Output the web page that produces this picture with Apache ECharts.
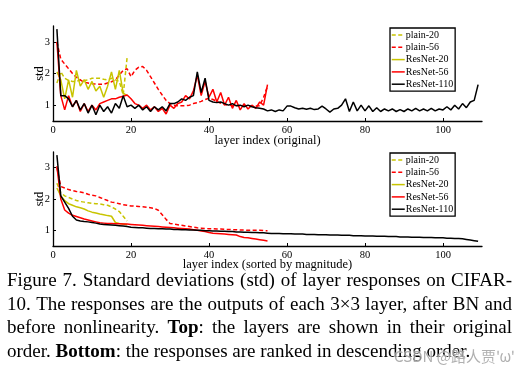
<!DOCTYPE html>
<html><head><meta charset="utf-8">
<script src="https://cdn.jsdelivr.net/npm/echarts@6/dist/echarts.min.js"></script>
<style>html,body{margin:0;padding:0;background:#fff}#c{width:523px;height:379px}</style>
</head><body><div id="c"></div>
<script>
// ---------- data ----------
const seriesNames = ['plain-20', 'plain-56', 'ResNet-20', 'ResNet-56', 'ResNet-110'];
const xTicks = [0, 20, 40, 60, 80, 100];
const yTicks = [1, 2, 3];

// Top: layer index (original)
const origPlain20 = [1.7, 2.05, 1.85, 1.78, 1.75, 1.75, 1.8, 1.78, 1.8, 1.85, 1.85, 1.85, 1.82, 1.8, 1.85, 1.8, 1.75, 1.32, 2.5];
const origPlain56 = [3.0, 2.45, 2.3, 2.15, 2.0, 1.88, 1.8, 1.72, 1.7, 1.68,
  1.67, 1.66, 1.66, 1.7, 1.74, 1.8, 1.95, 2.1, 2.15, 1.9,
  2.1, 2.2, 2.22, 2.1, 1.9, 1.7, 1.5, 1.32, 1.15, 1.05,
  1.0, 0.98, 0.98, 0.98, 1.0, 1.05, 1.08, 1.12, 1.18, 1.22,
  1.18, 1.12, 1.06, 1.02, 1.0, 0.99, 0.99, 0.98, 0.98, 0.98,
  0.97, 0.97, 0.98, 1.25, 1.6];
const origRes20 = [2.05, 1.8, 1.2, 1.8, 1.25, 2.1, 1.6, 1.8, 1.5, 1.75, 1.45, 1.6, 1.25, 1.6, 2.05, 1.5, 2.1, 1.38, 1.3];
const origRes56 = [3.0, 1.3, 0.85, 1.3, 0.95, 1.15, 0.8, 1.05, 0.8, 1.0,
  0.85, 1.05, 1.1, 1.15, 1.2, 1.2, 1.25, 1.28, 1.32, 1.2,
  1.05, 1.0, 0.9, 1.0, 0.85, 0.95, 0.8, 0.9, 0.72, 1.0,
  0.9, 1.05, 1.1, 1.3, 1.2, 1.45, 1.95, 1.3, 1.75, 1.25,
  1.5, 1.1, 1.4, 1.0, 1.25, 0.9, 1.15, 0.85, 1.05, 0.88,
  1.0, 0.9, 1.1, 1.0, 1.65];
const origRes110 = [3.4, 1.3, 1.3, 1.2, 0.95, 1.15, 0.85, 1.05, 0.75, 1.0,
  0.7, 1.0, 0.8, 0.95, 0.75, 1.05, 0.9, 1.3, 0.95, 1.0,
  0.9, 1.0, 0.85, 0.95, 0.8, 0.95, 0.85, 0.95, 0.82, 1.05,
  1.05, 1.1, 1.2, 1.15, 1.25, 1.3, 2.05, 1.4, 1.85, 1.15,
  1.1, 1.08, 1.1, 1.05, 1.0, 1.05, 0.98, 1.0, 0.95, 1.0,
  0.95, 0.92, 0.9, 0.88, 0.82, 0.85, 0.8, 0.85, 0.82, 0.97,
  0.97, 0.92, 0.88, 0.9, 0.87, 0.9, 0.86, 0.88, 0.97, 0.88,
  0.78, 0.88, 0.9, 1.0, 1.2, 0.8, 1.1, 0.82, 1.0, 0.82,
  0.98, 0.8, 0.92, 0.8, 0.88, 0.82, 0.88, 0.8, 0.86, 0.8,
  0.88, 0.82, 0.9, 0.82, 0.88, 0.82, 0.9, 0.82, 0.88, 0.85,
  0.95, 0.85, 1.0, 0.88, 1.05, 0.92, 1.1, 1.15, 1.65];

// Bottom: layer index (sorted by magnitude)
const sortPlain20 = [2.5, 2.2, 2.1, 2.05, 2.0, 1.95, 1.92, 1.9, 1.88, 1.86, 1.85, 1.84, 1.82, 1.8, 1.75, 1.68, 1.6, 1.45, 1.3];
const sortPlain56 = [3.0, 2.4, 2.35, 2.3, 2.27, 2.24, 2.22, 2.2, 2.15, 2.12,
  2.1, 2.05, 2.0, 1.95, 1.9, 1.88, 1.85, 1.82, 1.8, 1.78,
  1.77, 1.76, 1.75, 1.74, 1.72, 1.7, 1.64, 1.5, 1.35, 1.22,
  1.2, 1.18, 1.16, 1.14, 1.12, 1.1, 1.08, 1.07, 1.06, 1.05,
  1.05, 1.04, 1.04, 1.03, 1.03, 1.02, 1.02, 1.01, 1.01, 1.0,
  1.0, 1.0, 1.0, 0.99, 0.99];
const sortRes20 = [2.35, 2.1, 1.95, 1.85, 1.8, 1.75, 1.72, 1.68, 1.62, 1.58, 1.55, 1.52, 1.5, 1.47, 1.45, 1.25, 1.22, 1.2, 1.18];
const sortRes56 = [3.05, 2.0, 1.65, 1.55, 1.48, 1.44, 1.4, 1.36, 1.33, 1.3,
  1.27, 1.24, 1.23, 1.22, 1.22, 1.21, 1.21, 1.2, 1.2, 1.19,
  1.18, 1.17, 1.16, 1.15, 1.14, 1.13, 1.12, 1.11, 1.1, 1.09,
  1.08, 1.07, 1.06, 1.05, 1.04, 1.02, 1.0, 0.98, 0.96, 0.93,
  0.91, 0.9, 0.89, 0.88, 0.87, 0.86, 0.85, 0.8, 0.77, 0.76,
  0.74, 0.72, 0.7, 0.68, 0.66];
const sortRes110 = [3.4, 2.1, 1.9, 1.7, 1.45, 1.33, 1.3, 1.28, 1.27, 1.25,
  1.23, 1.2, 1.19, 1.18, 1.17, 1.16, 1.15, 1.14, 1.12, 1.1,
  1.09, 1.08, 1.08, 1.07, 1.06, 1.06, 1.05, 1.05, 1.04, 1.04,
  1.03, 1.03, 1.02, 1.02, 1.01, 1.01, 1.0, 1.0, 0.99, 0.99,
  0.98, 0.98, 0.97, 0.97, 0.96, 0.96, 0.95, 0.95, 0.94, 0.94,
  0.93, 0.93, 0.92, 0.92, 0.91, 0.9, 0.9, 0.9, 0.89, 0.89,
  0.89, 0.88, 0.88, 0.88, 0.87, 0.87, 0.87, 0.86, 0.86, 0.86,
  0.85, 0.85, 0.85, 0.84, 0.84, 0.84, 0.83, 0.83, 0.83, 0.82,
  0.82, 0.82, 0.81, 0.81, 0.81, 0.8, 0.8, 0.8, 0.79, 0.79,
  0.79, 0.78, 0.78, 0.78, 0.77, 0.77, 0.77, 0.76, 0.76, 0.76,
  0.75, 0.75, 0.74, 0.74, 0.73, 0.71, 0.69, 0.67, 0.65];

const captionLines = [
  'Figure 7. Standard deviations (std) of layer responses on CIFAR-',
  '10. The responses are the outputs of each 3\u00d73 layer, after BN and',
  'before nonlinearity. **Top**: the layers are shown in their original',
  'order. **Bottom**: the responses are ranked in descending order.'
];
const watermark = 'CSDN @\u8def\u4eba\u8d3e\'\u03c9\'';

// ---------- styles ----------
const colors = ['#c8c400', '#ff0000', '#c8c400', '#ff0000', '#000000'];
const dashed = [true, true, false, false, false];
const serif = '"Liberation Serif", "Times New Roman", serif';

const topData = [origPlain20, origPlain56, origRes20, origRes56, origRes110];
const botData = [sortPlain20, sortPlain56, sortRes20, sortRes56, sortRes110];

function makeSeries(arrs, idx) {
  return arrs.map((arr, k) => ({
    name: seriesNames[k], type: 'line', xAxisIndex: idx, yAxisIndex: idx,
    data: arr.map((v, i) => [i + 1, v]),
    symbol: 'none', silent: true, animation: false,
    lineStyle: { width: 1.5, color: colors[k], type: dashed[k] ? [4, 2.5] : 'solid' },
    itemStyle: { color: colors[k] }
  }));
}

function xAxis(idx, name, gap) {
  return {
    gridIndex: idx, type: 'value', min: 0, max: 110,
    name: name, nameLocation: 'middle', nameGap: gap, nameMoveOverlap: false,
    nameTextStyle: { fontFamily: serif, fontSize: 12.5, color: '#000' },
    axisLine: { show: true, lineStyle: { color: '#000', width: 1.3 } },
    axisTick: { show: true, inside: true, length: 3, customValues: xTicks, lineStyle: { color: '#000', width: 1 } },
    axisLabel: { customValues: xTicks, fontFamily: serif, fontSize: 10.5, color: '#000', margin: 4 },
    splitLine: { show: false }
  };
}
function yAxis(idx) {
  return {
    gridIndex: idx, type: 'value', min: 0.5, max: 3.5,
    name: 'std', nameLocation: 'middle', nameGap: 7, nameMoveOverlap: false,
    nameTextStyle: { fontFamily: serif, fontSize: 12.5, color: '#000' },
    axisLine: { show: true, lineStyle: { color: '#000', width: 1.3 } },
    axisTick: { show: true, inside: true, length: 3, customValues: yTicks, lineStyle: { color: '#000', width: 1 } },
    axisLabel: { customValues: yTicks, fontFamily: serif, fontSize: 10.5, color: '#000', margin: 3 },
    splitLine: { show: false }
  };
}
function legend(top) {
  return {
    orient: 'vertical', left: 390, top: top, data: seriesNames,
    backgroundColor: '#fff', borderColor: '#000', borderWidth: 1.3,
    padding: [1, 2, 1, 1], itemGap: 0.3, itemWidth: 13, itemHeight: 10,
    selectedMode: false,
    itemStyle: { opacity: 0 },
    lineStyle: { width: 1.5 },
    textStyle: { fontFamily: serif, fontSize: 10, color: '#000', lineHeight: 12, padding: [0, 0, 0, -4] }
  };
}

// ---------- caption layout (justified) ----------
const FS = 19, X0 = 7, X1 = 512;
const lineCenters = [281.5, 305, 328.3, 351.6];
const cvs = document.createElement('canvas').getContext('2d');
function measure(t, b) { cvs.font = (b ? 'bold ' : '') + FS + 'px ' + serif; return cvs.measureText(t).width; }
const graphics = [];
captionLines.forEach((line, li) => {
  const words = line.split(' ').filter(w => w.length).map(w => {
    const segs = w.split('**').map((s, j) => ({ t: s, b: j % 2 === 1 })).filter(s => s.t.length);
    segs.forEach(s => s.w = measure(s.t, s.b));
    return { segs, w: segs.reduce((a, s) => a + s.w, 0) };
  });
  const total = words.reduce((a, w) => a + w.w, 0);
  const last = li === captionLines.length - 1;
  const gap = last ? measure(' ', false) : (X1 - X0 - total) / (words.length - 1);
  let x = X0;
  words.forEach(w => {
    w.segs.forEach(s => {
      graphics.push({ type: 'text', x: x, y: lineCenters[li], silent: true,
        style: { text: s.t, fontFamily: serif, fontSize: FS, fontWeight: s.b ? 'bold' : 'normal',
          fill: '#000', align: 'left', verticalAlign: 'middle' } });
      x += s.w;
    });
    x += gap;
  });
});
graphics.push({ type: 'text', x: 515, y: 356, silent: true, z: 100,
  style: { text: watermark, fontFamily: '"Noto Sans CJK SC", "Noto Sans", sans-serif', fontSize: 15,
    fill: 'rgba(150,150,150,0.75)', stroke: 'rgba(255,255,255,0.6)', lineWidth: 1,
    align: 'right', verticalAlign: 'middle' } });

const chart = echarts.init(document.getElementById('c'), null, { renderer: 'canvas' });
chart.setOption({
  animation: false,
  backgroundColor: '#fff',
  grid: [
    { left: 53, top: 26, width: 429, height: 95 },
    { left: 53, top: 152, width: 429, height: 94 }
  ],
  xAxis: [xAxis(0, 'layer index (original)', 13), xAxis(1, 'layer index (sorted by magnitude)', 12.5)],
  yAxis: [yAxis(0), yAxis(1)],
  legend: [legend(28), legend(153)],
  series: makeSeries(topData, 0).concat(makeSeries(botData, 1)),
  graphic: graphics
});
</script>
</body></html>
